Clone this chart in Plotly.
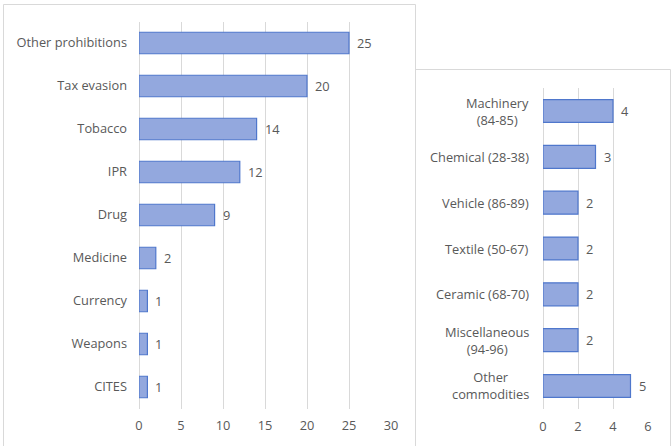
import plotly.graph_objects as go

# Seizures by offence type (left panel)
offence_labels = ["Other prohibitions", "Tax evasion", "Tobacco", "IPR", "Drug",
                  "Medicine", "Currency", "Weapons", "CITES"]
offence_values = [25, 20, 14, 12, 9, 2, 1, 1, 1]
offence_ticks = [0, 5, 10, 15, 20, 25, 30]

# Seizures by commodity group (right panel)
commodity_labels = ["Machinery<br>(84-85)", "Chemical (28-38)", "Vehicle (86-89)",
                    "Textile (50-67)", "Ceramic (68-70)", "Miscellaneous<br>(94-96)",
                    "Other<br>commodities"]
commodity_values = [4, 3, 2, 2, 2, 2, 5]
commodity_ticks = [0, 2, 4, 6]

W, H = 672, 446
TXT = "#595959"
GRID = "#D9D9D9"
FILL = "#93A8DE"
EDGE = "#4F77CC"
FONT = "Open Sans"
FS = 12.8


def px_x(p):
    return p / W


def px_y(p):
    return 1 - p / H


fig = go.Figure()

fig.add_trace(go.Bar(
    y=offence_labels, x=offence_values, orientation="h",
    xaxis="x", yaxis="y", width=0.5,
    marker=dict(color=FILL, line=dict(color=EDGE, width=1.2)),
    hoverinfo="skip", showlegend=False,
))
fig.add_trace(go.Bar(
    y=commodity_labels, x=commodity_values, orientation="h",
    xaxis="x2", yaxis="y2", width=0.5,
    marker=dict(color=FILL, line=dict(color=EDGE, width=1.2)),
    hoverinfo="skip", showlegend=False,
))

annotations = []
# value labels next to each bar
for lab, v in zip(offence_labels, offence_values):
    annotations.append(dict(x=v, y=lab, xref="x", yref="y", text=str(v),
                            showarrow=False, xanchor="left", xshift=6,
                            font=dict(family=FONT, size=FS, color=TXT)))
for lab, v in zip(commodity_labels, commodity_values):
    annotations.append(dict(x=v, y=lab, xref="x2", yref="y2", text=str(v),
                            showarrow=False, xanchor="left", xshift=6,
                            font=dict(family=FONT, size=FS, color=TXT)))
# category labels of the right panel, centred line by line
for lab in commodity_labels:
    annotations.append(dict(x=px_x(531), y=lab, xref="paper", yref="y2", text=lab,
                            showarrow=False, xanchor="right", align="center",
                            font=dict(family=FONT, size=FS, color=TXT)))

axis_common = dict(showgrid=True, gridcolor=GRID, gridwidth=1, zeroline=True,
                   zerolinecolor=GRID, zerolinewidth=1, showline=False, ticks="",
                   tickfont=dict(family=FONT, size=FS, color=TXT),
                   ticklabelstandoff=8, fixedrange=True, automargin=False)

fig.update_layout(
    width=W, height=H,
    margin=dict(l=0, r=0, t=0, b=0, autoexpand=False),
    paper_bgcolor="white", plot_bgcolor="white",
    font=dict(family=FONT, size=FS, color=TXT),
    xaxis=dict(domain=[px_x(139), px_x(391)], range=[0, 30], tickvals=offence_ticks,
               anchor="y", **axis_common),
    yaxis=dict(domain=[px_y(408.5), px_y(21.5)], autorange="reversed",
               anchor="x", showgrid=False, showline=False, ticks="", zeroline=False,
               tickfont=dict(family=FONT, size=FS, color=TXT),
               ticklabelstandoff=11, fixedrange=True, automargin=False),
    xaxis2=dict(domain=[px_x(543), px_x(648)], range=[0, 6], tickvals=commodity_ticks,
                anchor="y2", **axis_common),
    yaxis2=dict(domain=[px_y(408.9), px_y(88.1)], autorange="reversed",
                anchor="x2", showgrid=False, showline=False, ticks="", zeroline=False,
                showticklabels=False, fixedrange=True, automargin=False),
    annotations=annotations,
    shapes=[
        dict(type="rect", xref="paper", yref="paper",
             x0=px_x(3.5), x1=px_x(415.5), y0=px_y(450), y1=px_y(4.5),
             line=dict(color=GRID, width=1), layer="below"),
        dict(type="rect", xref="paper", yref="paper",
             x0=px_x(415.5), x1=px_x(670.5), y0=px_y(450), y1=px_y(69.5),
             line=dict(color=GRID, width=1), layer="below"),
    ],
)

fig.write_html("out.html")
